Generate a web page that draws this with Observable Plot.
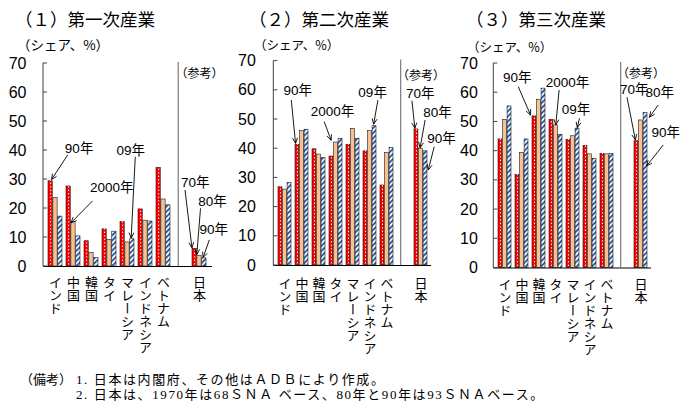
<!DOCTYPE html>
<html lang="ja">
<head>
<meta charset="utf-8">
<script src="https://cdn.jsdelivr.net/npm/d3@7"></script>
<script src="https://cdn.jsdelivr.net/npm/@observablehq/plot@0.6"></script>
<style>
  html, body { margin: 0; padding: 0; background: #fff; }
  #figure { position: relative; width: 692px; height: 410px; overflow: hidden; font-family: "Noto Sans CJK JP", sans-serif; color: #000; }
  .panel { position: absolute; top: 0; }
  .panel svg { overflow: visible; }
  .title { position: absolute; font-size: 17.5px; line-height: 20px; white-space: nowrap; }
  .unit { position: absolute; line-height: 14px; white-space: nowrap; }
  .note { position: absolute; font-size: 13px; line-height: 15px; letter-spacing: 1.6px; white-space: nowrap; font-family: "Liberation Serif", "Noto Sans CJK JP", serif; }
</style>
</head>
<body>
<svg width="0" height="0" style="position:absolute">
  <defs>
    <pattern id="hatch" patternUnits="userSpaceOnUse" width="3.6" height="3.6" patternTransform="rotate(45)">
      <rect width="3.6" height="3.6" fill="#ffffff"></rect>
      <rect width="1.9" height="3.6" fill="#2e5da6"></rect>
    </pattern>
  </defs>
</svg>
<div id="figure"></div>
<script>
// ---- data -------------------------------------------------------------
const categories = ["インド", "中国", "韓国", "タイ", "マレーシア", "インドネシア", "ベトナム", "日本"];
const yTicks = [0, 10, 20, 30, 40, 50, 60, 70];
const asiaYears = ["90年", "2000年", "09年"];
const japanYears = ["70年", "80年", "90年"];

// shares (%) per category; Japan (last) is 70年 / 80年 / 90年
const primaryA = [29.4, 27.6, 8.7, 12.8, 15.3, 19.7, 34.0, 6.1];
const primaryB = [23.6, 15.3, 4.7, 9.2, 8.3, 15.8, 23.1, 3.7];
const primaryC = [17.2, 10.4, 2.9, 12.0, 9.4, 15.5, 21.1, 2.8];

const secondaryA = [26.8, 41.3, 39.8, 37.3, 41.3, 39.1, 27.4, 46.6];
const secondaryB = [26.0, 46.0, 38.0, 42.1, 46.8, 46.0, 38.5, 40.0];
const secondaryC = [28.2, 46.5, 36.8, 43.4, 43.4, 47.7, 40.3, 39.1];

const tertiaryA = [44.0, 31.9, 51.9, 50.7, 43.9, 41.8, 39.1, 43.4];
const tertiaryB = [50.7, 39.4, 57.6, 48.8, 45.1, 38.9, 38.9, 50.5];
const tertiaryC = [55.3, 44.0, 61.4, 45.6, 47.7, 37.4, 39.1, 53.0];

const panelTitles = ["（１）第一次産業", "（２）第二次産業", "（３）第三次産業"];
const unitLabel = "（シェア、%）";
const referenceLabel = "（参考）";
const noteHead = "（備考）";
const noteLines = [
  "1. 日本は内閣府、その他はＡＤＢにより作成。",
  "2. 日本は、1970年は68ＳＮＡ ベース、80年と90年は93ＳＮＡベース。"
];

// ---- styling ----------------------------------------------------------
const numFont = '"Liberation Sans", "Noto Sans CJK JP", sans-serif';
const cjkFont = '"Noto Sans CJK JP", sans-serif';
const fills = ["#ff0000", "#fac090", "url(#hatch)"];
const gapKey = " ";
const xDomain = [...categories.slice(0, 7), gapKey, categories[7]];
const PAD_IN = 0.22, PAD_OUT = 0.12;
const H = 370;

// annotation layout: bar slot s, category index c, label slot t (defaults to s),
// offsets (px) from the bar's top centre
const layouts = [
  {
    left: 0, width: 230, marginLeft: 43, marginRight: 18, marginTop: 63, marginBottom: 104,
    tickPadding: 17, refDy: 6, catDy: 9, titleX: 15, unitX: 17, unitY: 37, unitSize: 13.5,
    series: [primaryA, primaryB, primaryC],
    notes: [
      {s: 0, c: 0, label: [28.8, -32.7], from: [17.3, -25.7], to: [1.2, -1.2]},
      {s: 1, c: 1, label: [38.7, -34.1], from: [19.4, -20.6], to: [-2, 1.2]},
      {s: 2, c: 4, label: [-0.9, -88.7], from: [3.6, -82], to: [-0.5, -0.6]},
      {s: 0, c: 7, label: [0.9, -65.8], from: [-9.3, -58.3], to: [-2.4, -0.5]},
      {s: 1, c: 7, label: [13.5, -54.3], from: [1.5, -47], to: [-2.2, -0.6]},
      {s: 2, c: 7, label: [10.1, -28.9], from: [5.6, -17.9], to: [-0.6, -0.3]}
    ]
  },
  {
    left: 230, width: 230, marginLeft: 43.3, marginRight: 29, marginTop: 60.6, marginBottom: 105,
    tickPadding: 18, refDy: 10, catDy: 11, titleX: 249, unitX: 254, unitY: 38, unitSize: 12.5,
    series: [secondaryA, secondaryB, secondaryC],
    notes: [
      {s: 0, c: 1, label: [0.6, -53.9], from: [-5.9, -44.4], to: [-1.6, -1]},
      {s: 1, c: 3, label: [-2.9, -30.8], from: [-11.3, -20.4], to: [-4.4, -1.8]},
      {s: 2, c: 5, label: [-1.2, -33.9], from: [4.1, -25.7], to: [-0.2, -1.5]},
      {s: 0, c: 7, label: [4, -35.4], from: [-4.2, -28.2], to: [-1.3, -0.6]},
      {s: 1, c: 7, label: [17.1, -36.4], from: [4.6, -28.2], to: [-0.4, -0.4]},
      {s: 2, c: 7, label: [16.7, -12.3], from: [9.4, -4.1], to: [3.4, 19.2]}
    ]
  },
  {
    left: 460, width: 232, marginLeft: 33.3, marginRight: 41, marginTop: 63, marginBottom: 102.5,
    tickPadding: 16, refDy: 6, catDy: 10, titleX: 466, unitX: 467, unitY: 40, unitSize: 12.5,
    series: [tertiaryA, tertiaryB, tertiaryC],
    notes: [
      {s: 0, c: 2, label: [-16.8, -38.4], from: [-15.9, -29.2], to: [-3.6, -0.8]},
      {s: 1, c: 3, label: [12, -42.5], from: [3.6, -35], to: [0.3, 0]},
      {s: 2, c: 4, label: [-0.9, -19.2], from: [2.6, -9.9], to: [0.5, -0.5]},
      {s: 0, c: 7, label: [-2, -51.8], from: [-9.2, -43.5], to: [-0.8, -0.8]},
      {s: 2, c: 7, t: 1, label: [14.9, -20.4], from: [13.4, -7.7], to: [4.6, 4.6]},
      {s: 2, c: 7, label: [20.9, 19.8], from: [18.4, 32.3], to: [1.8, 53.3]}
    ]
  }
];

// Axis line, inward ticks, separator and labelled arrows, drawn from the plot's scales.
function decorations(L) {
  return (index, scales, values, dims) => {
    const {x, y} = scales;
    const third = x.bandwidth() / 3;
    const g = d3.create("svg:g");
    const x0 = dims.marginLeft;
    const yMax = d3.max(yTicks);
    g.append("line")
      .attr("x1", x0).attr("x2", x0).attr("y1", y(0)).attr("y2", y(yMax))
      .attr("stroke", "#404040").attr("stroke-width", 1);
    g.selectAll(".tick").data(yTicks).join("line")
      .attr("x1", x0).attr("x2", x0 + 4).attr("y1", d => y(d)).attr("y2", d => y(d))
      .attr("stroke", "#404040").attr("stroke-width", 1);
    const sepX = x(gapKey) + x.bandwidth() / 2 - 2.8;
    g.append("line")
      .attr("x1", sepX).attr("x2", sepX).attr("y1", y(0)).attr("y2", y(yMax) - 1)
      .attr("stroke", "#6f6f6f").attr("stroke-width", 1.1);

    for (const n of L.notes) {
      const cat = categories[n.c];
      const v = L.series[n.s][n.c];
      const px = x(cat) + third * (n.s + 0.5);
      const py = y(v);
      const x1 = px + n.from[0], y1 = py + n.from[1];
      const x2 = px + n.to[0], y2 = py + n.to[1];
      g.append("line")
        .attr("x1", x1).attr("y1", y1).attr("x2", x2).attr("y2", y2)
        .attr("stroke", "#000").attr("stroke-width", 0.9);
      const a = Math.atan2(y2 - y1, x2 - x1), len = 6, spread = 0.42;
      const p1 = [x2 - len * Math.cos(a - spread), y2 - len * Math.sin(a - spread)];
      const p2 = [x2 - len * Math.cos(a + spread), y2 - len * Math.sin(a + spread)];
      g.append("path")
        .attr("d", `M${p1[0]},${p1[1]}L${x2},${y2}L${p2[0]},${p2[1]}`)
        .attr("fill", "none").attr("stroke", "#000").attr("stroke-width", 0.9);
      const t = n.t ?? n.s;
      g.append("text")
        .attr("x", px + n.label[0]).attr("y", py + n.label[1] + 4.8)
        .attr("text-anchor", "middle")
        .attr("font-family", numFont).attr("font-size", 13.5)
        .text(n.c === 7 ? japanYears[t] : asiaYears[t]);
    }
    return g.node();
  };
}

const figure = document.getElementById("figure");

layouts.forEach((L, k) => {
  const frameW = L.width - L.marginLeft - L.marginRight;
  const step = frameW / (xDomain.length - PAD_IN + 2 * PAD_OUT);
  const third = step * (1 - PAD_IN) / 3;
  const rows = categories.map((c, i) => ({c, i}));

  const svg = Plot.plot({
    width: L.width,
    height: H,
    marginLeft: L.marginLeft,
    marginRight: L.marginRight,
    marginTop: L.marginTop,
    marginBottom: L.marginBottom,
    style: {fontFamily: numFont, fontSize: "16px", background: "transparent", overflow: "visible", color: "#000"},
    x: {domain: xDomain, paddingInner: PAD_IN, paddingOuter: PAD_OUT, axis: null},
    y: {domain: [0, 70], ticks: yTicks, tickSize: 0, tickPadding: L.tickPadding, label: null},
    marks: [
      ...L.series.map((vals, s) => Plot.barY(rows, {
        x: d => d.c, y: d => vals[d.i],
        fill: fills[s], stroke: "#1a1a1a", strokeWidth: 0.6,
        insetLeft: third * s, insetRight: third * (2 - s)
      })),
      Plot.ruleX(rows, {
        x: d => d.c, y1: 0, y2: d => L.series[0][d.i], dx: -third,
        stroke: "#ffffff", strokeWidth: 1, strokeDasharray: "1.3,2.2", insetTop: 2, insetBottom: 1
      }),
      Plot.ruleY([0], {stroke: "#000", strokeWidth: 1}),
      Plot.text(rows, {
        x: d => d.c, text: d => d.c, frameAnchor: "bottom", dy: L.catDy,
        textAnchor: "start", lineAnchor: "bottom", fontSize: 13, fontFamily: cjkFont
      }),
      Plot.text([categories[7]], {
        x: d => d, text: () => referenceLabel, frameAnchor: "top", dy: L.refDy,
        fontSize: 12, fontFamily: cjkFont
      }),
      decorations(L)
    ]
  });

  // category names are set in vertical writing
  svg.querySelectorAll("text").forEach(t => {
    if (categories.includes(t.textContent)) t.style.writingMode = "vertical-rl";
  });

  const holder = document.createElement("div");
  holder.className = "panel";
  holder.style.left = L.left + "px";
  holder.style.width = L.width + "px";
  holder.appendChild(svg);
  figure.appendChild(holder);

  const title = document.createElement("div");
  title.className = "title";
  title.style.left = L.titleX + "px";
  title.style.top = "9px";
  title.textContent = panelTitles[k];
  figure.appendChild(title);

  const unit = document.createElement("div");
  unit.className = "unit";
  unit.style.left = L.unitX + "px";
  unit.style.top = L.unitY + "px";
  unit.style.fontSize = L.unitSize + "px";
  unit.textContent = unitLabel;
  figure.appendChild(unit);
});

const head = document.createElement("div");
head.className = "note";
head.style.left = "20px";
head.style.top = "372px";
head.style.letterSpacing = "0px";
head.textContent = noteHead;
figure.appendChild(head);
noteLines.forEach((line, i) => {
  const el = document.createElement("div");
  el.className = "note";
  el.style.left = "76px";
  el.style.top = (372 + i * 15) + "px";
  el.textContent = line;
  figure.appendChild(el);
});
</script>
</body>
</html>
